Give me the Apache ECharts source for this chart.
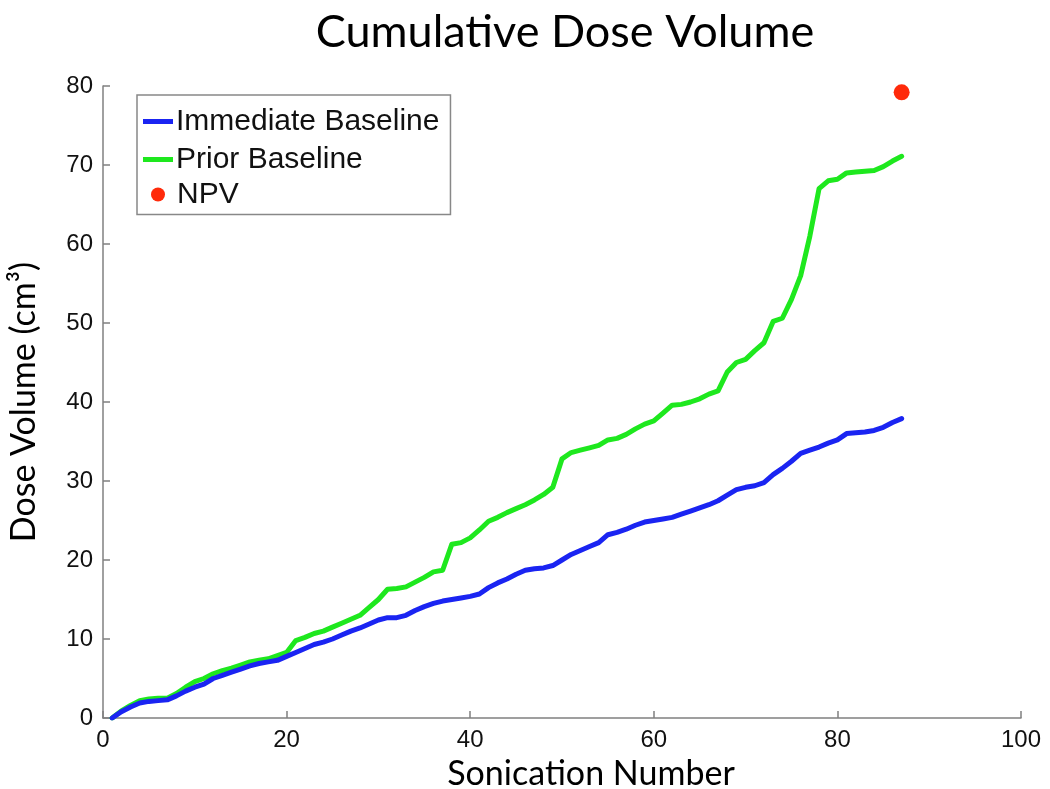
<!DOCTYPE html>
<html>
<head>
<meta charset="utf-8">
<script src="https://cdn.jsdelivr.net/npm/echarts@6/dist/echarts.min.js"></script>
<style>html,body{margin:0;padding:0;background:#fff;}#chart{width:1050px;height:789px;}</style>
</head>
<body>
<div id="chart"></div>
<script>
var sonications = [];
for (var i = 1; i <= 87; i++) sonications.push(i);
var immediateBaseline = [0,0.8,1.4,1.9,2.1,2.2,2.3,2.8,3.4,3.9,4.3,5.0,5.4,5.8,6.2,6.6,6.9,7.1,7.3,7.8,8.3,8.8,9.3,9.6,10.0,10.5,11.0,11.4,11.9,12.4,12.7,12.7,13.0,13.6,14.1,14.5,14.8,15.0,15.2,15.4,15.7,16.5,17.1,17.6,18.2,18.7,18.9,19.0,19.3,20.0,20.7,21.2,21.7,22.2,23.2,23.5,23.9,24.4,24.8,25.0,25.2,25.4,25.8,26.2,26.6,27.0,27.5,28.2,28.9,29.2,29.4,29.8,30.8,31.6,32.5,33.5,33.9,34.3,34.8,35.2,36.0,36.1,36.2,36.4,36.8,37.4,37.9];
var priorBaseline = [0,0.9,1.6,2.2,2.4,2.5,2.5,3.1,3.9,4.6,5.0,5.6,6.0,6.3,6.7,7.1,7.3,7.5,7.9,8.3,9.8,10.2,10.7,11.0,11.5,12.0,12.5,13.0,14.0,15.0,16.3,16.4,16.6,17.2,17.8,18.5,18.7,22.0,22.2,22.8,23.8,24.9,25.4,26.0,26.5,27.0,27.6,28.3,29.2,32.8,33.6,33.9,34.2,34.5,35.2,35.4,35.9,36.6,37.2,37.6,38.6,39.6,39.7,40.0,40.4,41.0,41.4,43.8,45.0,45.4,46.5,47.5,50.2,50.6,53.0,56.0,61.0,67.0,68.0,68.2,69.0,69.1,69.2,69.3,69.8,70.5,71.1];
var npvX = [87];
var npvY = [79.2];
var xTicks = [0, 20, 40, 60, 80, 100];
var yTicks = [0, 10, 20, 30, 40, 50, 60, 70, 80];

function pairs(xs, ys) { return xs.map(function (x, k) { return [x, ys[k]]; }); }

var chart = echarts.init(document.getElementById('chart'), null, {renderer: 'canvas'});
var axisColor = '#808080';
var labelFont = {color: '#111', fontFamily: 'Liberation Sans', fontSize: 24};
function legendText(padLeft) {
  return {color: '#111', fontFamily: 'Liberation Sans', fontSize: 30, lineHeight: 29, padding: [0, 0, 0, padLeft]};
}
chart.setOption({
  animation: false,
  backgroundColor: '#fff',
  title: {
    text: 'Cumulative Dose Volume',
    left: 560, top: 5, textAlign: 'center',
    textStyle: {fontFamily: 'Lato', fontWeight: 'normal', fontSize: 45, color: '#000'}
  },
  grid: {left: 103, right: 29, top: 86, bottom: 71, outerBoundsMode: 'none', containLabel: false},
  legend: [
    {
      orient: 'vertical',
      left: 137, top: 95,
      padding: [11.5, 11, 40, 6],
      borderColor: '#888', borderWidth: 1.5,
      backgroundColor: '#fff',
      icon: 'rect',
      itemWidth: 30, itemHeight: 5, itemGap: 8,
      textStyle: legendText(-2),
      data: ['Immediate Baseline', 'Prior Baseline']
    },
    {
      orient: 'vertical',
      left: 151, top: 179.5,
      padding: 0,
      z: 10,
      icon: 'circle',
      itemWidth: 30, itemHeight: 14,
      textStyle: legendText(-1),
      data: ['NPV']
    }
  ],
  xAxis: {
    type: 'value', min: 0, max: 100, interval: 20,
    name: 'Sonication Number', nameLocation: 'middle', nameGap: 38,
    nameTextStyle: {fontFamily: 'Lato', fontSize: 34, color: '#000', padding: [0, 0, 0, 58]},
    axisLine: {lineStyle: {color: axisColor, width: 1.5}},
    axisTick: {inside: true, length: 7, lineStyle: {color: axisColor, width: 1.5}},
    axisLabel: Object.assign({margin: 10}, labelFont),
    splitLine: {show: false}
  },
  yAxis: {
    type: 'value', min: 0, max: 80, interval: 10,
    name: 'Dose Volume (cm³)', nameLocation: 'middle', nameGap: 62,
    nameTextStyle: {fontFamily: 'Lato', fontSize: 34, color: '#000'},
    axisLine: {show: true, lineStyle: {color: axisColor, width: 1.5}},
    axisTick: {show: true, inside: true, length: 7, lineStyle: {color: axisColor, width: 1.5}},
    axisLabel: Object.assign({margin: 10}, labelFont),
    splitLine: {show: false}
  },
  series: [
    {
      name: 'Immediate Baseline', type: 'line', symbol: 'none', smooth: false,
      data: pairs(sonications, immediateBaseline),
      lineStyle: {color: '#1a24f2', width: 5, cap: 'round', join: 'round'},
      itemStyle: {color: '#1a24f2'}, z: 3
    },
    {
      name: 'Prior Baseline', type: 'line', symbol: 'none', smooth: false,
      data: pairs(sonications, priorBaseline),
      lineStyle: {color: '#1ee81e', width: 5, cap: 'round', join: 'round'},
      itemStyle: {color: '#1ee81e'}, z: 2
    },
    {
      name: 'NPV', type: 'scatter', symbol: 'circle', symbolSize: 16,
      data: pairs(npvX, npvY),
      itemStyle: {color: '#ff2a0a', opacity: 1}
    }
  ]
});
</script>
</body>
</html>
